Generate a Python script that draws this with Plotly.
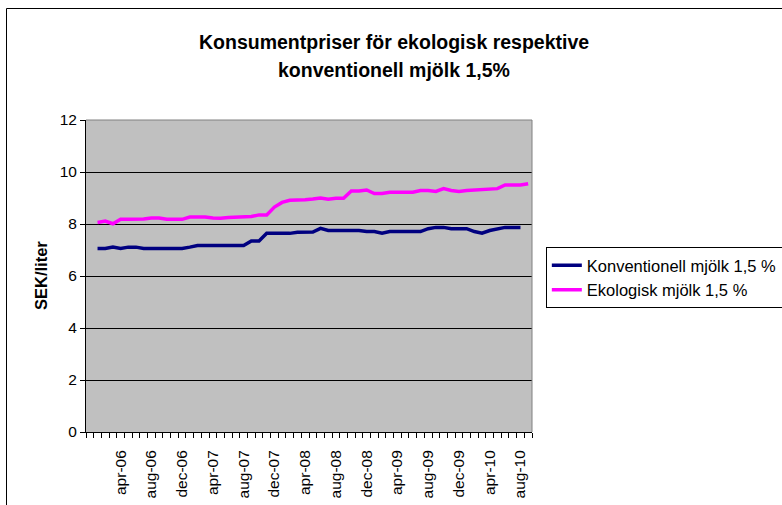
import plotly.graph_objects as go

months = ["dec-05",
          "jan-06", "feb-06", "mar-06", "apr-06", "maj-06", "jun-06", "jul-06", "aug-06", "sep-06", "okt-06", "nov-06", "dec-06",
          "jan-07", "feb-07", "mar-07", "apr-07", "maj-07", "jun-07", "jul-07", "aug-07", "sep-07", "okt-07", "nov-07", "dec-07",
          "jan-08", "feb-08", "mar-08", "apr-08", "maj-08", "jun-08", "jul-08", "aug-08", "sep-08", "okt-08", "nov-08", "dec-08",
          "jan-09", "feb-09", "mar-09", "apr-09", "maj-09", "jun-09", "jul-09", "aug-09", "sep-09", "okt-09", "nov-09", "dec-09",
          "jan-10", "feb-10", "mar-10", "apr-10", "maj-10", "jun-10", "jul-10", "aug-10", "sep-10"]

shown_labels = ["apr-06", "aug-06", "dec-06", "apr-07", "aug-07", "dec-07", "apr-08",
                "aug-08", "dec-08", "apr-09", "aug-09", "dec-09", "apr-10", "aug-10"]

konventionell = [None,
                 7.06, 7.06, 7.11, 7.06, 7.11, 7.11, 7.06, 7.06, 7.06, 7.06, 7.06, 7.06,
                 7.11, 7.17, 7.17, 7.17, 7.17, 7.17, 7.17, 7.17, 7.35, 7.35, 7.64, 7.64,
                 7.64, 7.64, 7.68, 7.69, 7.69, 7.83, 7.75, 7.75, 7.75, 7.75, 7.75, 7.71,
                 7.71, 7.65, 7.71, 7.71, 7.71, 7.71, 7.71, 7.82, 7.87, 7.87, 7.82, 7.82,
                 7.82, 7.71, 7.65, 7.75, 7.82, 7.87, 7.87, 7.87]

ekologisk = [None,
             8.06, 8.11, 8.01, 8.18, 8.18, 8.18, 8.19, 8.23, 8.23, 8.18, 8.17, 8.18,
             8.27, 8.27, 8.27, 8.23, 8.22, 8.25, 8.27, 8.27, 8.29, 8.35, 8.35, 8.65,
             8.83, 8.91, 8.91, 8.93, 8.96, 9.00, 8.95, 8.99, 8.99, 9.27, 9.27, 9.31,
             9.17, 9.17, 9.22, 9.22, 9.22, 9.22, 9.29, 9.29, 9.25, 9.36, 9.29, 9.25,
             9.29, 9.31, 9.35, 9.36, 9.36, 9.50, 9.50, 9.50, 9.55]

x_idx = list(range(len(months)))
tickvals = [months.index(m) for m in shown_labels]

fig = go.Figure()
fig.add_trace(go.Scatter(x=x_idx, y=konventionell, mode="lines", name="Konventionell mjölk 1,5 %",
                         line=dict(color="#000080", width=3.5)))
fig.add_trace(go.Scatter(x=x_idx, y=ekologisk, mode="lines", name="Ekologisk mjölk 1,5 %",
                         line=dict(color="#FF00FF", width=3.5)))

font_family = "Liberation Sans, Arial, sans-serif"

# plot area in page coords is x 86..532, y 120..432 (body margin removed via post_script)
fig.update_layout(
    width=782, height=505,
    margin=dict(l=86, r=250, t=120, b=73, autoexpand=False),
    paper_bgcolor="white",
    plot_bgcolor="#C0C0C0",
    font=dict(family=font_family, size=16, color="black"),
    showlegend=True,
    legend=dict(x=1.031, y=(432 - 247) / 312, xanchor="left", yanchor="top",
                bgcolor="white", bordercolor="black", borderwidth=1,
                font=dict(size=16.5, family=font_family), tracegroupgap=0),
    xaxis=dict(range=[-0.5, len(months) - 0.5], tickmode="array", tickvals=tickvals,
               ticktext=shown_labels, tickangle=-90, ticks="outside", ticklen=11,
               tickcolor="rgba(0,0,0,0)", showgrid=False,
               showline=True, linecolor="black", linewidth=1, zeroline=False,
               minor=dict(tickmode="linear", tick0=-0.5, dtick=1, ticks="outside",
                          ticklen=5, tickcolor="black", showgrid=False),
               tickfont=dict(size=15.5), fixedrange=True),
    yaxis=dict(range=[0, 12], dtick=2, tick0=0, ticks="outside", ticklen=5,
               tickcolor="black", showgrid=True, gridcolor="black", gridwidth=1,
               showline=True, linecolor="black", linewidth=1, zeroline=False,
               tickfont=dict(size=15.5), fixedrange=True),
    shapes=[
        dict(type="line", xref="paper", yref="paper", x0=0, x1=1, y0=1, y1=1,
             line=dict(color="#808080", width=1)),
        dict(type="line", xref="paper", yref="paper", x0=1, x1=1, y0=0, y1=1,
             line=dict(color="#808080", width=1)),
        dict(type="rect", xref="paper", yref="paper", x0=(6.5 - 86) / 446, x1=1.6,
             y0=-0.3, y1=1 + (120 - 8.5) / 312,
             line=dict(color="black", width=1), layer="below"),
    ],
    annotations=[
        dict(text="<b>Konsumentpriser för ekologisk respektive</b>", xref="paper", yref="paper",
             x=(394 - 86) / 446, y=1 + (120 - 42) / 312, xanchor="center", yanchor="middle",
             showarrow=False, font=dict(size=19.5, family=font_family)),
        dict(text="<b>konventionell mjölk 1,5%</b>", xref="paper", yref="paper",
             x=(394 - 86) / 446, y=1 + (120 - 70) / 312, xanchor="center", yanchor="middle",
             showarrow=False, font=dict(size=19.5, family=font_family)),
        dict(text="<b>SEK/liter</b>", xref="paper", yref="paper", x=(41 - 86) / 446, y=0.5,
             xanchor="center", yanchor="middle", textangle=-90, showarrow=False,
             font=dict(size=16.5, family=font_family)),
    ],
)

fig.write_html("out.html", config={"displayModeBar": False, "staticPlot": True},
               post_script="document.body.style.margin='0';document.body.style.overflow='hidden';")
